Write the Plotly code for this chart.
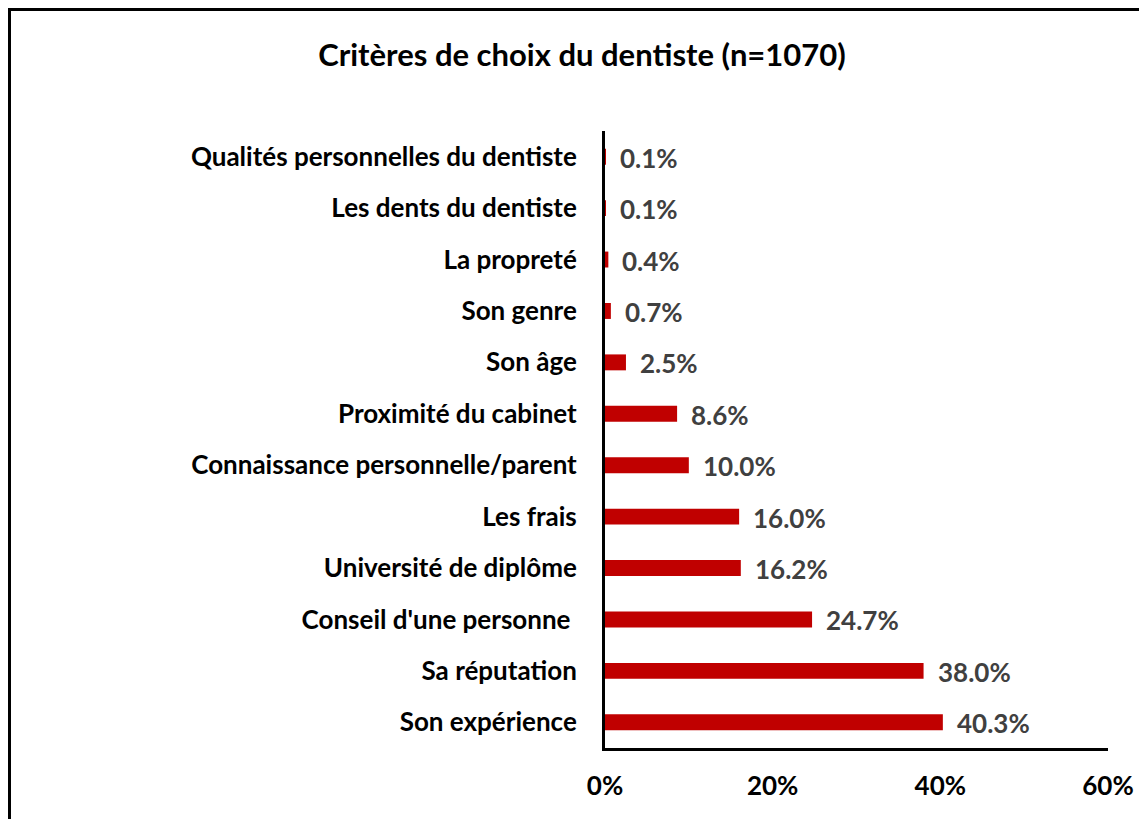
import plotly.graph_objects as go

categories = ["Son expérience", "Sa réputation", "Conseil d'une personne ", "Université de diplôme",
              "Les frais", "Connaissance personnelle/parent", "Proximité du cabinet", "Son âge",
              "Son genre", "La propreté", "Les dents du dentiste", "Qualités personnelles du dentiste"]
values = [40.3, 38.0, 24.7, 16.2, 16.0, 10.0, 8.6, 2.5, 0.7, 0.4, 0.1, 0.1]
tick_vals = [0, 20, 40, 60]
tick_text = ["0%", "20%", "40%", "60%"]
title_text = "Critères de choix du dentiste (n=1070)"

FONT = "Lato"
W, H = 1147, 819
ml, mr, mt, mb = 597, 47, 123, 79
pw, ph = W - ml - mr, H - mt - mb

fig = go.Figure()
fig.add_trace(go.Bar(
    y=categories, x=values, orientation="h",
    marker=dict(color="#C00000", line=dict(width=0)),
    hoverinfo="skip",
))

for c, v in zip(categories, values):
    fig.add_annotation(x=v, y=c, xref="x", yref="y", text=f"{v:.1f}%",
                       showarrow=False, xanchor="left", yanchor="middle", xshift=12, yshift=-1,
                       font=dict(family=FONT, size=26, color="#404040", weight="bold"))

def px_x(p):
    return (p - ml) / pw

def px_y(p):
    return (H - mb - p) / ph

fig.add_shape(type="rect", xref="paper", yref="paper",
              x0=px_x(1), x1=px_x(1170), y0=px_y(840), y1=px_y(1),
              line=dict(color="black", width=4), fillcolor="rgba(0,0,0,0)", layer="above")

fig.update_layout(
    width=W, height=H,
    margin=dict(l=ml, r=mr, t=mt, b=mb, pad=0),
    paper_bgcolor="white", plot_bgcolor="white",
    showlegend=False,
    bargap=0.69,
    title=dict(text=title_text, xref="container", yref="container", x=574 / W, xanchor="center",
               y=1 - 47 / H, yanchor="middle",
               font=dict(family=FONT, size=31, color="black", weight="bold")),
    xaxis=dict(range=[0, 60], tickvals=tick_vals, ticktext=tick_text, showgrid=False, zeroline=False,
               showline=True, linecolor="black", linewidth=3, ticks="", ticklabelstandoff=13,
               tickfont=dict(family=FONT, size=26, color="black", weight="bold")),
    yaxis=dict(range=[-0.5, 11.5], showgrid=False, zeroline=False,
               showline=True, linecolor="black", linewidth=3, ticks="", ticklabelstandoff=20,
               tickfont=dict(family=FONT, size=26, color="black", weight="bold")),
)

fig.write_html("out.html")
